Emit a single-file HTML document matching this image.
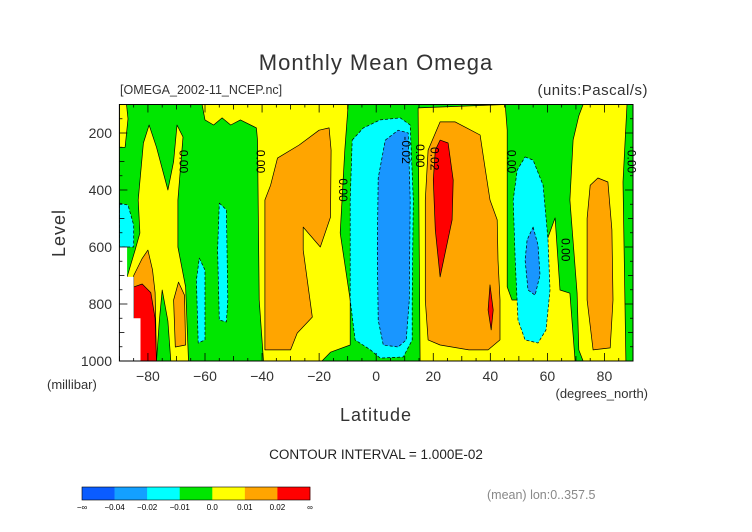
<!DOCTYPE html>
<html><head><meta charset="utf-8">
<style>
html,body{margin:0;padding:0;background:#fff;}
svg{display:block;font-family:"Liberation Sans",sans-serif;}
</style></head>
<body>
<svg id="chart" width="752" height="532" viewBox="0 0 752 532" xmlns="http://www.w3.org/2000/svg">
<text x="376" y="70" font-size="22" text-anchor="middle" fill="#333" letter-spacing="1">Monthly Mean Omega</text>
<text x="120" y="94" font-size="12.5" fill="#333">[OMEGA_2002-11_NCEP.nc]</text>
<text x="648" y="95" font-size="15" text-anchor="end" fill="#333" letter-spacing="0.5">(units:Pascal/s)</text>
<defs><clipPath id="pc"><rect x="119.4" y="104.5" width="513.6" height="256.5"/></clipPath></defs>
<g id="plot" clip-path="url(#pc)">
<rect x="119.4" y="104.5" width="513.6" height="256.5" fill="#00e600"/>
</g>
<g id="labels"></g>
<rect x="119.4" y="104.5" width="513.6" height="256.5" fill="none" stroke="#000" stroke-width="1"/>
<g id="axes"></g>
<text transform="translate(65,233) rotate(-90)" font-size="18" text-anchor="middle" fill="#333" letter-spacing="1">Level</text>
<text x="47" y="389" font-size="13" fill="#333">(millibar)</text>
<text x="376" y="421" font-size="18" text-anchor="middle" fill="#333" letter-spacing="1">Latitude</text>
<text x="648" y="398" font-size="13" text-anchor="end" fill="#333">(degrees_north)</text>
<text x="376" y="459" font-size="13.5" text-anchor="middle" fill="#222">CONTOUR INTERVAL = 1.000E-02</text>
<text x="487" y="499" font-size="12.5" fill="#888">(mean) lon:0..357.5</text>
<g id="colorbar"></g>
<script>
var latMin=-90, latMax=90, levTop=100, levBot=1000;
var xTicks=[-80,-60,-40,-20,0,20,40,60,80];
var yTicks=[200,400,600,800,1000];
var cbLabels=["-\u221e","-0.04","-0.02","-0.01","0.0","0.01","0.02","\u221e"];
var cbColors=["#0a5cff","#13a0ff","#00ffff","#00e600","#ffff00","#ffa500","#ff0000"];
var yellowTL=[[-90,100],[-87.5,100],[-87,150],[-88,250],[-90,250]];
var yellowA=[[-79.6,172],[-77,250],[-73,400],[-71,300],[-69.8,172],[-67.7,214],[-69.5,435],[-69.5,600],[-66.8,740],[-65.8,1000],[-83,1000],[-87.3,705],[-84.5,611],[-82.8,551],[-83.4,435],[-81.6,235]];
var greenWedge=[[-75,751],[-73,860],[-72,1000],[-77,1000],[-76,860]];
var orangeA1=[[-69.3,723],[-67.2,769],[-66.8,944],[-70.4,951],[-71,786]];
var cyanL=[[-90,446],[-87,453],[-85,523],[-85,600],[-90,600]];
var orangeA2=[[-85,700],[-82,640],[-80,611],[-78.4,680],[-77.5,760],[-77,1000],[-85,1000]];
var redA=[[-85,740],[-82,730],[-79,760],[-77.5,850],[-77,1000],[-85,1000]];
var whiteA=[[-90,600],[-87.3,600],[-87.3,705],[-85,705],[-85,850],[-82.6,850],[-82.6,1000],[-90,1000]];
var cyanA1=[[-62,639],[-60,681],[-60,926],[-62.4,937],[-63,716]];
var cyanA2=[[-55,446],[-52.5,470],[-52,786],[-52.5,863],[-55,856],[-55.6,611]];
var yellowB=[[-61,100],[-9.8,100],[-11,260],[-12.6,551],[-9.1,786],[-9.1,944],[-16,969],[-19,1000],[-39.5,1000],[-41,786],[-41.6,225],[-42,182],[-47.6,154],[-51,172],[-54,147],[-57,172],[-60,154]];
var orangeB=[[-20,190],[-16.5,182],[-15.8,260],[-16,495],[-19.6,600],[-25.6,530],[-25.6,611],[-22.4,846],[-27.7,902],[-30,961],[-39,961],[-39,435],[-37,383],[-34.6,288],[-27,242]];
var cyanC=[[-8.4,225],[-4.5,182],[1.4,154],[8.4,147],[11.9,172],[13,435],[12.6,786],[12.6,926],[9.5,986],[1.4,990],[-2,961],[-7.4,926],[-9.1,786],[-9.1,435]];
var blueC=[[3.2,225],[7.7,190],[11.2,200],[11.9,435],[11.6,786],[10.5,926],[7.7,951],[2.5,944],[0.7,856],[0.4,611],[0.7,358]];
var yellowC=[[14.7,112],[45.2,100],[45.9,190],[45.9,740],[47.6,786],[59.2,786],[59.9,575],[62.7,498],[64.4,751],[67.9,762],[69.7,1000],[15.4,1000]];
var orangeC=[[22.4,161],[27.7,161],[36.4,207],[38,312],[39.9,435],[42.4,505],[42.7,646],[43.4,786],[43.4,926],[39.2,961],[32.5,961],[22.4,944],[18.2,926],[17.2,786],[17.2,435],[18.2,260]];
var redC=[[22.4,225],[25.2,235],[27,365],[26.6,505],[22.4,705],[20.7,540],[20,365],[20.7,260]];
var redC2=[[39.9,733],[41,821],[40.3,891],[39.2,821]];
var yellowD=[[72.5,100],[87.9,100],[86.5,372],[87.5,1000],[72.5,1000],[71,961],[70.4,762],[67.9,435],[69,225],[71,140]];
var orangeD=[[77.7,358],[81.2,372],[82.6,540],[83,786],[82,954],[76,961],[73.9,786],[73.9,500],[75,383]];
var cyanD=[[52.2,284],[55,295],[58.5,383],[60.2,575],[60.9,751],[59.5,891],[56.7,937],[52.2,926],[49.7,856],[48.7,646],[48,435],[49.4,330]];
var blueD=[[55,530],[56.7,593],[57.4,698],[55.7,769],[53.2,751],[52.2,646],[52.9,575]];
var contourLabels=[[-69,300,"0.00"],[-42,300,"0.00"],[-13,400,"0.00"],[14,280,"0.00"],[9,260,"-0.02"],[19,290,"0.02"],[46,300,"0.00"],[65,610,"0.00"],[88,300,"0.00"]];

var X0=119.4,X1=633,Y0=104.5,Y1=361;
function xs(lat){return X0+(lat-latMin)/(latMax-latMin)*(X1-X0);}
function ys(lev){return Y0+(lev-levTop)/(levBot-levTop)*(Y1-Y0);}
var NS="http://www.w3.org/2000/svg";
var plot=document.getElementById('plot');
function poly(pts,fill,name,dash,stroke){
  var p=document.createElementNS(NS,'polygon');
  p.setAttribute('points',pts.map(function(d){return xs(d[0]).toFixed(1)+','+ys(d[1]).toFixed(1);}).join(' '));
  p.setAttribute('fill',fill);
  p.setAttribute('stroke',stroke===undefined?'#000':stroke);
  p.setAttribute('stroke-width','0.7');
  p.setAttribute('stroke-linejoin','round');
  if(dash)p.setAttribute('stroke-dasharray','3,2');
  
  
  plot.appendChild(p);
}
poly(yellowTL,'#ffff00','yellow-region-tl');
poly(yellowA,'#ffff00','yellow-region-a');
poly(greenWedge,'#00e600','green-wedge');
poly(orangeA1,'#ffa500','orange-region-a1');
poly(cyanL,'#00ffff','cyan-region-left',true);
poly(orangeA2,'#ffa500','orange-region-a2');
poly(redA,'#ff0000','red-region-a');
poly(whiteA,'#ffffff','missing-data-region',false,'none');
poly(cyanA1,'#00ffff','cyan-region-a1',true);
poly(cyanA2,'#00ffff','cyan-region-a2',true);
poly(yellowB,'#ffff00','yellow-region-b');
poly(orangeB,'#ffa500','orange-region-b');
poly(cyanC,'#00ffff','cyan-region-c',true);
poly(blueC,'#1996ff','blue-region-c',true);
poly(yellowC,'#ffff00','yellow-region-c');
poly(orangeC,'#ffa500','orange-region-c');
poly(redC,'#ff0000','red-region-c');
poly(redC2,'#ff0000','red-region-c2');
poly(yellowD,'#ffff00','yellow-region-d');
poly(orangeD,'#ffa500','orange-region-d');
poly(cyanD,'#00ffff','cyan-region-d',true);
poly(blueD,'#1996ff','blue-region-d',true);

var lg=document.getElementById('labels');
contourLabels.forEach(function(c){
  var t=document.createElementNS(NS,'text');
  t.setAttribute('transform','translate('+xs(c[0]).toFixed(1)+','+ys(c[1]).toFixed(1)+') rotate(90)');
  t.setAttribute('font-size','12');t.setAttribute('text-anchor','middle');t.setAttribute('fill','#000');
  t.textContent=c[2];
  
  
  lg.appendChild(t);
});

var ax=document.getElementById('axes');
function line(x1,y1,x2,y2,name){
  var l=document.createElementNS(NS,'line');
  l.setAttribute('x1',x1);l.setAttribute('y1',y1);l.setAttribute('x2',x2);l.setAttribute('y2',y2);
  l.setAttribute('stroke','#000');l.setAttribute('stroke-width','0.8');
  
  
  ax.appendChild(l);
}
function txt(x,y,s,anchor,size,name){
  var t=document.createElementNS(NS,'text');
  t.setAttribute('x',x);t.setAttribute('y',y);t.setAttribute('text-anchor',anchor);
  t.setAttribute('font-size',size);t.setAttribute('fill','#333');
  t.textContent=s;
  
  
  return t;
}
for(var la=-90;la<=90;la+=5){
  var len=(la%20===0)?8:(la%10===0?5:3);
  line(xs(la),Y1,xs(la),Y1-len,'x-tick');line(xs(la),Y0,xs(la),Y0+len,'x-tick');
}
for(var lv=100;lv<=1000;lv+=50){
  var len2=(lv%200===0)?8:(lv%100===0?5:3);
  line(X0,ys(lv),X0+len2,ys(lv),'y-tick');line(X1,ys(lv),X1-len2,ys(lv),'y-tick');
}
xTicks.forEach(function(v){ax.appendChild(txt(xs(v),381,String(v).replace('-','\u2212'),'middle',14,'x-tick-label'));});
yTicks.forEach(function(v){ax.appendChild(txt(112,ys(v)+5,String(v),'end',14,'y-tick-label'));});

var cb=document.getElementById('colorbar');
var cbX=82,cbW=228,cbY=487,cbH=13,n=cbColors.length;
cbColors.forEach(function(c,i){
  var r=document.createElementNS(NS,'rect');
  r.setAttribute('x',cbX+i*cbW/n);r.setAttribute('y',cbY);r.setAttribute('width',cbW/n+0.3);r.setAttribute('height',cbH);r.setAttribute('fill',c);
  
  
  cb.appendChild(r);
});
var fr=document.createElementNS(NS,'rect');
fr.setAttribute('x',cbX);fr.setAttribute('y',cbY);fr.setAttribute('width',cbW);fr.setAttribute('height',cbH);fr.setAttribute('fill','none');fr.setAttribute('stroke','#000');fr.setAttribute('stroke-width','0.6');


cb.appendChild(fr);
cbLabels.forEach(function(s,i){
  var t=txt(cbX+i*cbW/n,510,s.replace('-','\u2212'),'middle',8,'colorbar-label');
  t.setAttribute('fill','#000');
  cb.appendChild(t);
});
</script>
</svg>
</body></html>
